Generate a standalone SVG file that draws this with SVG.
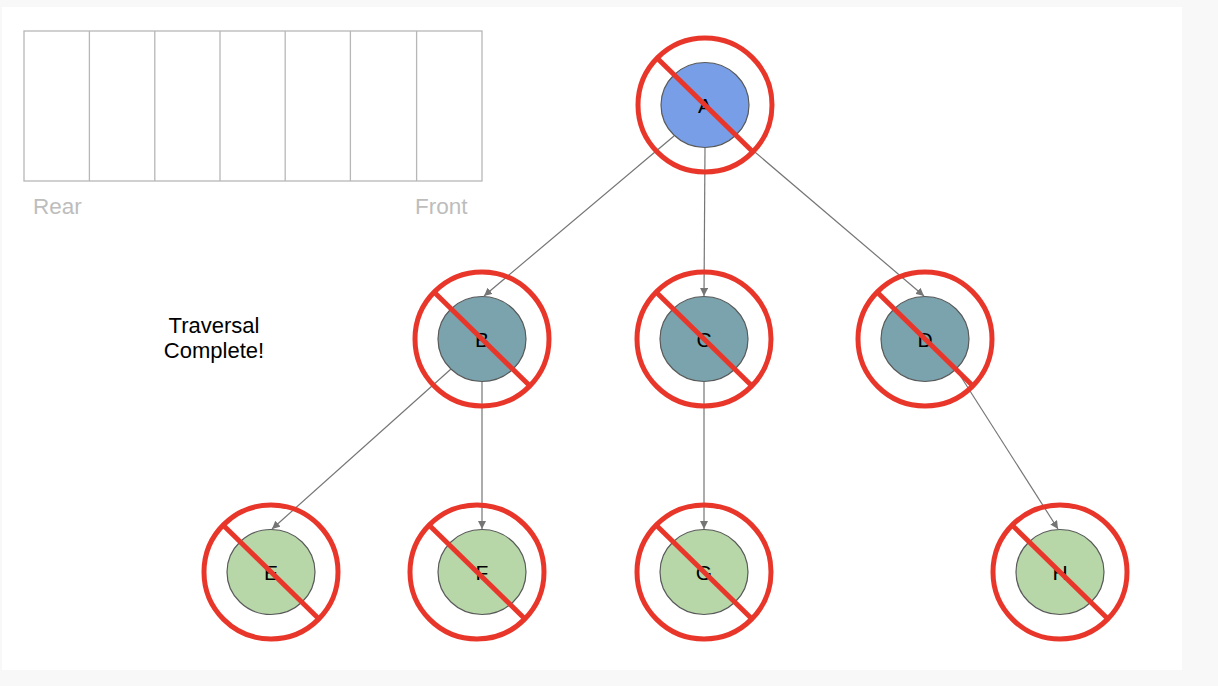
<svg xmlns="http://www.w3.org/2000/svg" width="1218" height="686" viewBox="0 0 1218 686">
<style>
.q{fill:none;stroke:#b7b7b7;stroke-width:1.3}
.ql{font-family:"Liberation Sans",Arial,sans-serif;font-size:22.5px;fill:#bdbdbd}
.t{font-family:"Liberation Sans",Arial,sans-serif;font-size:22px;fill:#000}
.n{stroke:#595959;stroke-width:1.2}
.blue{fill:#779ee6}
.teal{fill:#7aa3ad}
.green{fill:#b7d7a8}
.lbl{font-family:"Liberation Sans",Arial,sans-serif;font-size:21px;fill:#000;text-anchor:middle;dominant-baseline:central}
.ring{fill:none;stroke:#e8372a;stroke-width:5}
.e{fill:none;stroke:#757575;stroke-width:1.2;marker-end:url(#ah)}
</style>
<defs>
<marker id="ah" viewBox="0 0 10 10" refX="10" refY="5" markerWidth="8" markerHeight="8" markerUnits="userSpaceOnUse" orient="auto">
<path d="M0,0 L10,5 L0,10 z" fill="#757575"/>
</marker>
<g id="x">
<circle r="67" class="ring"/>
<line x1="-48" y1="-47" x2="48" y2="47" stroke="#e8372a" stroke-width="5"/>
</g>
</defs>
<rect x="0" y="0" width="1218" height="686" fill="#f8f8f8"/>
<rect x="2" y="7" width="1180" height="663" fill="#ffffff"/>
<g id="queue">
<rect x="24" y="31" width="458" height="150" class="q"/>
<line x1="89.4" y1="31" x2="89.4" y2="181" class="q"/>
<line x1="154.8" y1="31" x2="154.8" y2="181" class="q"/>
<line x1="220" y1="31" x2="220" y2="181" class="q"/>
<line x1="285.2" y1="31" x2="285.2" y2="181" class="q"/>
<line x1="350.4" y1="31" x2="350.4" y2="181" class="q"/>
<line x1="416.6" y1="31" x2="416.6" y2="181" class="q"/>
<text x="33" y="213.5" class="ql">Rear</text>
<text x="415" y="213.5" class="ql">Front</text>
</g>
<g id="status">
<text x="214" y="333" class="t" text-anchor="middle">Traversal</text>
<text x="214" y="358" class="t" text-anchor="middle">Complete!</text>
</g>
<g id="connectors">
<line x1="674" y1="136" x2="484" y2="296" class="e"/>
<line x1="705" y1="148" x2="704" y2="296" class="e"/>
<line x1="736" y1="136" x2="924" y2="296" class="e"/>
<line x1="451" y1="369" x2="272" y2="529" class="e"/>
<line x1="482" y1="382" x2="482" y2="529" class="e"/>
<line x1="704" y1="382" x2="704" y2="529" class="e"/>
<line x1="956" y1="369" x2="1058" y2="529" class="e"/>
</g>
<g id="nodeA"><ellipse cx="705" cy="105" rx="44" ry="42.5" class="n blue"/><text x="705" y="105" class="lbl">A</text><use href="#x" x="705" y="105"/></g>
<g id="nodeB"><ellipse cx="482" cy="339" rx="44" ry="42.5" class="n teal"/><text x="482" y="339" class="lbl">B</text><use href="#x" x="482" y="339"/></g>
<g id="nodeC"><ellipse cx="704" cy="339" rx="44" ry="42.5" class="n teal"/><text x="704" y="339" class="lbl">C</text><use href="#x" x="704" y="339"/></g>
<g id="nodeD"><ellipse cx="925" cy="339" rx="44" ry="42.5" class="n teal"/><text x="925" y="339" class="lbl">D</text><use href="#x" x="925" y="339"/></g>
<g id="nodeE"><ellipse cx="271" cy="572" rx="44" ry="42.5" class="n green"/><text x="271" y="572" class="lbl">E</text><use href="#x" x="271" y="572"/></g>
<g id="nodeF"><ellipse cx="482" cy="572" rx="44" ry="42.5" class="n green"/><text x="482" y="572" class="lbl">F</text><use href="#x" x="477" y="572"/></g>
<g id="nodeG"><ellipse cx="704" cy="572" rx="44" ry="42.5" class="n green"/><text x="704" y="572" class="lbl">G</text><use href="#x" x="704" y="572"/></g>
<g id="nodeH"><ellipse cx="1060" cy="572" rx="44" ry="42.5" class="n green"/><text x="1060" y="572" class="lbl">H</text><use href="#x" x="1060" y="572"/></g>
</svg>
